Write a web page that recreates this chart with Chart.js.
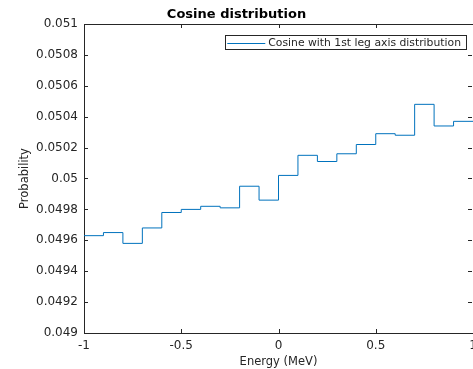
<!DOCTYPE html>
<html>
<head>
<meta charset="utf-8">
<script src="https://cdn.jsdelivr.net/npm/chart.js@4"></script>
<style>
  html, body { margin: 0; padding: 0; background: #fff; overflow: hidden; }
  #chart { display: block; }
</style>
</head>
<body>
<canvas id="chart" width="473" height="369"></canvas>
<script>
// bin edges (MeV) and probability per bin
const binEdges = [-1, -0.9, -0.8, -0.7, -0.6, -0.5, -0.4, -0.3, -0.2, -0.1, 0,
                  0.1, 0.2, 0.3, 0.4, 0.5, 0.6, 0.7, 0.8, 0.9, 1];
const probability = [0.04963, 0.04965, 0.04958, 0.04968, 0.04978, 0.04980, 0.04982, 0.04981, 0.04995, 0.04986,
                     0.05002, 0.05015, 0.05011, 0.05016, 0.05022, 0.05029, 0.05028, 0.05048, 0.05034, 0.05037];
const xTicks = [-1, -0.5, 0, 0.5, 1];
const yTicks = [0.049, 0.0492, 0.0494, 0.0496, 0.0498, 0.05, 0.0502, 0.0504, 0.0506, 0.0508, 0.051];

const axisColor = '#262626';
const fontFamily = "'DejaVu Sans', sans-serif";
Chart.defaults.font.family = fontFamily;
Chart.defaults.color = axisColor;

// stairs: each value holds until the next edge, last one until x = 1
const points = binEdges.map((x, i) => ({ x: x, y: probability[Math.min(i, probability.length - 1)] }));

// box on top, inward tick marks like MATLAB, and the boxed legend in the top right corner
const boxPlugin = {
  id: 'box',
  afterDraw(chart) {
    const ctx = chart.ctx;
    const a = chart.chartArea;
    const xs = chart.scales.x, ys = chart.scales.y;
    const len = 4;
    ctx.save();
    ctx.strokeStyle = axisColor;
    ctx.lineWidth = 1;
    ctx.beginPath();
    ctx.moveTo(a.left, a.top + 0.5);
    ctx.lineTo(a.right, a.top + 0.5);
    xs.ticks.forEach(t => {
      const px = Math.round(xs.getPixelForValue(t.value)) + 0.5;
      ctx.moveTo(px, a.bottom); ctx.lineTo(px, a.bottom - len);
      ctx.moveTo(px, a.top); ctx.lineTo(px, a.top + len);
    });
    ys.ticks.forEach(t => {
      const py = Math.round(ys.getPixelForValue(t.value)) + 0.5;
      ctx.moveTo(a.left, py); ctx.lineTo(a.left + len, py);
      ctx.moveTo(a.right - 1, py); ctx.lineTo(a.right - 1 - len, py);
    });
    ctx.stroke();

    // legend
    const ds = chart.data.datasets[0];
    ctx.font = '10.8px ' + fontFamily;
    const textW = ctx.measureText(ds.label).width;
    const textRight = a.right - 12;
    const textLeft = textRight - textW;
    const lineRight = textLeft - 3;
    const lineLeft = lineRight - 38;
    const top = Math.round(a.top + 11) + 0.5;
    const bottom = Math.round(a.top + 25) + 0.5;
    const midY = (top + bottom) / 2;
    ctx.fillStyle = '#fff';
    ctx.fillRect(lineLeft - 2, top, a.right - 7 - (lineLeft - 2), bottom - top);
    ctx.strokeRect(Math.round(lineLeft - 2) + 0.5, top, Math.round(a.right - 7 - (lineLeft - 2)), bottom - top);
    ctx.strokeStyle = ds.borderColor;
    ctx.beginPath();
    ctx.moveTo(lineLeft, Math.round(midY) + 0.5);
    ctx.lineTo(lineRight, Math.round(midY) + 0.5);
    ctx.stroke();
    ctx.fillStyle = axisColor;
    ctx.textBaseline = 'middle';
    ctx.textAlign = 'left';
    ctx.fillText(ds.label, textLeft, midY + 0.5);
    ctx.restore();
  }
};

new Chart(document.getElementById('chart'), {
  type: 'line',
  data: {
    datasets: [{
      label: 'Cosine with 1st leg axis distribution',
      data: points,
      stepped: 'before',
      borderColor: '#0072BD',
      backgroundColor: '#0072BD',
      borderWidth: 1,
      pointRadius: 0,
      fill: false
    }]
  },
  options: {
    responsive: false,
    animation: false,
    layout: { padding: 0 },
    plugins: {
      title: {
        display: true,
        text: 'Cosine distribution',
        color: '#000',
        font: { size: 13, weight: 'bold' },
        padding: { top: 6.6, bottom: 1.8 }
      },
      legend: { display: false },
      tooltip: { enabled: false }
    },
    scales: {
      x: {
        type: 'linear',
        min: -1,
        max: 1,
        afterBuildTicks(s) { s.ticks = xTicks.map(v => ({ value: v })); },
        afterFit(s) { s.height = 36; s.paddingLeft = 0; s.paddingRight = 0; },
        grid: { display: false, drawTicks: false },
        border: { display: true, color: axisColor, width: 1 },
        ticks: { padding: 5.5, font: { size: 12 }, color: axisColor, callback: v => String(v) },
        title: { display: true, text: 'Energy (MeV)', color: axisColor, font: { size: 11.5 }, padding: { top: 0, bottom: 0 } }
      },
      y: {
        min: 0.049,
        max: 0.051,
        afterBuildTicks(s) { s.ticks = yTicks.map(v => ({ value: v })); },
        afterFit(s) { s.width = 84; s.paddingTop = 0; s.paddingBottom = 0; },
        grid: { display: false, drawTicks: false },
        border: { display: true, color: axisColor, width: 1 },
        ticks: { padding: 6, font: { size: 12 }, color: axisColor, callback: v => String(v) },
        title: { display: true, text: 'Probability', color: axisColor, font: { size: 11.5 }, padding: { top: 18, bottom: 0 } }
      }
    }
  },
  plugins: [boxPlugin]
});
</script>
</body>
</html>
